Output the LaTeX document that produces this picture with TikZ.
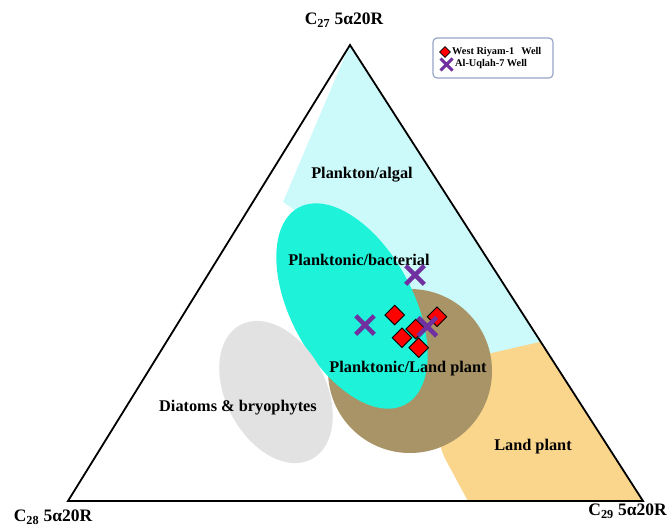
\documentclass[tikz,border=0pt]{standalone}
\usepackage{fontspec}
\setmainfont{Liberation Serif}
\usetikzlibrary{shapes.geometric,shapes.misc}
\definecolor{cyanL}{RGB}{204,250,250}
\definecolor{tealR}{RGB}{30,242,216}
\definecolor{brownR}{RGB}{168,148,102}
\definecolor{grayR}{RGB}{226,226,226}
\definecolor{orangeR}{RGB}{250,213,140}
\definecolor{purpleX}{RGB}{112,48,160}
\definecolor{legendB}{RGB}{150,165,200}
\begin{document}
\begin{tikzpicture}[x=1pt,y=-1pt,
  lbl/.style={font=\fontsize{16.3}{19}\selectfont\bfseries, inner sep=0},
  corner/.style={font=\fontsize{17.5}{20}\selectfont\bfseries, inner sep=0},
  lfont/.style={font=\fontsize{10.3}{12}\selectfont\bfseries, inner sep=0},
  wdiam/.style={diamond, draw=black, line width=0.9pt, fill=red, minimum size=20pt, inner sep=0, aspect=1},
  xmark/.style={cross out, draw=purpleX, line width=4.5pt, minimum size=14pt, inner sep=0},
]
\useasboundingbox (0,0) rectangle (668,528);
\coordinate (A) at (350,45);
\coordinate (B) at (68,501);
\coordinate (C) at (643,501);
\begin{scope}
\clip (A) -- (B) -- (C) -- cycle;
\fill[cyanL] (356,30) -- (700,30) -- (700,360) -- (540,350) -- (492,362) -- (450,365) -- (380,300) -- (296,211) -- (283,202) -- cycle;
\fill[orangeR, rounded corners=7pt] (492,353) -- (700,305) -- (700,540) -- (489,540) -- (442,453) -- (432,400) -- (470,358) -- cycle;
\fill[brownR] (410,371) circle (82);
\fill[tealR, rotate around={-61.5:(352,306)}] (352,306) ellipse (112 and 61);
\fill[grayR, rotate around={-62:(276,392)}] (276,392) ellipse (76 and 50);
\end{scope}
\draw[line width=1.8pt, line join=miter] (A) -- (B) -- (C) -- cycle;

\node[lbl] (algal) at (362,175) {Plankton/algal};
\node[lbl] (bact) at (359,260) {Planktonic/bacterial};
\node[lbl] (plland) at (408,369) {Planktonic/Land plant};
\node[lbl] (diat) at (238,408) {Diatoms \& bryophytes};
\node[lbl] (land) at (533,447) {Land plant};

\node[corner] (c27) at (344,20) {C\textsubscript{27} 5α20R};
\node[corner] (c28) at (53,517) {C\textsubscript{28} 5α20R};
\node[corner, anchor=east] (c29) at (667,511) {C\textsubscript{29} 5α20R};

\node[wdiam] (d1) at (394.7,315) {};
\node[wdiam] (d2) at (437,316.7) {};
\node[wdiam] (d3) at (415.7,329) {};
\node[wdiam] (d4) at (402,337.7) {};
\node[wdiam] (d5) at (418.7,347.7) {};
\node[xmark] (x1) at (415,275) {};
\node[xmark] (x2) at (365,325) {};
\node[xmark] (x3) at (427.3,326.7) {};

\node[draw=legendB, line width=1.2pt, rounded corners=4pt, minimum width=120pt, minimum height=40pt, inner sep=0] (legend) at (493,58) {};
\node[wdiam, minimum size=11pt, line width=0.6pt] (ld) at (445,52) {};
\node[lfont, anchor=west] (lt1) at (452,52) {West Riyam-1\hspace{7pt}Well};
\node[xmark, minimum size=9pt, line width=3pt] (lx) at (446.5,64.5) {};
\node[lfont, anchor=west] (lt2) at (455,64.5) {Al-Uqlah-7 Well};
\end{tikzpicture}
\end{document}
